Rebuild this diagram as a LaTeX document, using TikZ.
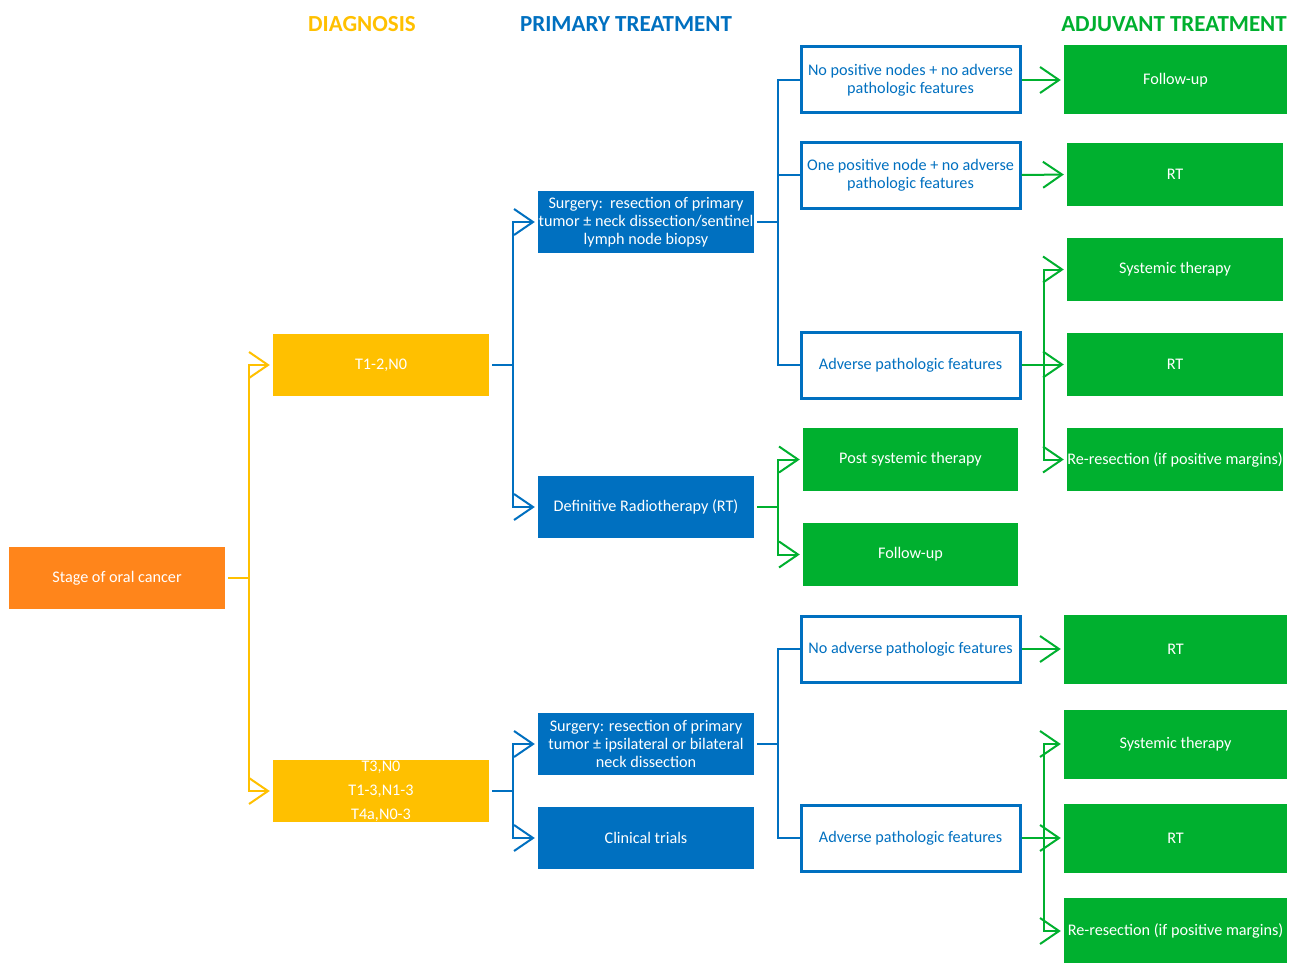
\documentclass[tikz,border=0pt]{standalone}
\usepackage{fontspec}
\setmainfont{Carlito}
\usetikzlibrary{arrows.meta}
\definecolor{cor}{RGB}{255,133,27}
\definecolor{cye}{RGB}{255,192,0}
\definecolor{cbl}{RGB}{0,112,192}
\definecolor{cgr}{RGB}{0,176,47}
\tikzset{
  base/.style={inner sep=0pt, align=center, font=\fontsize{16.2}{17.8}\selectfont, minimum width=216pt, minimum height=62pt},
  obox/.style={base, fill=cor, text=white},
  ybox/.style={base, fill=cye, text=white},
  bbox/.style={base, fill=cbl, text=white},
  wbox/.style={base, draw=cbl, line width=3pt, fill=white, text=cbl, minimum width=219pt, minimum height=66pt},
  gbox/.style={base, fill=cgr, text=white},
  gboxw/.style={gbox, minimum width=223pt, minimum height=69pt},
  hdr/.style={font=\fontsize{23}{27}\selectfont\bfseries, inner sep=0pt},
  tip/.style={-{Straight Barb[length=19pt,width=26pt]}, shorten >=3pt},
  yl/.style={draw=cye, line width=2pt},
  bl/.style={draw=cbl, line width=2pt},
  gl/.style={draw=cgr, line width=2pt},
}
\begin{document}
\begin{tikzpicture}[x=1pt,y=-1pt]
\useasboundingbox[fill=white] (0,0) rectangle (1295,963);
% headers
\node[hdr, text=cye] (h1) at (362,24) {DIAGNOSIS};
\node[hdr, text=cbl] (h2) at (626,24) {PRIMARY TREATMENT};
\node[hdr, text=cgr] (h3) at (1174,24) {ADJUVANT TREATMENT};
% diagnosis
\node[obox] (stage) at (117,578) {Stage of oral cancer};
\node[ybox] (d1) at (381,365) {T1-2,N0};
\node[ybox, font=\fontsize{16.2}{24}\selectfont] (d2) at (381,791) {T3,N0\\T1-3,N1-3\\T4a,N0-3};
% primary
\node[bbox] (s1) at (646,222) {Surgery:\ \ resection of primary\\tumor ± neck dissection/sentinel\\lymph node biopsy};
\node[bbox] (rt) at (646,507) {Definitive Radiotherapy (RT)};
\node[bbox] (s2) at (646,744) {Surgery: resection of primary\\tumor ± ipsilateral or bilateral\\neck dissection};
\node[bbox] (ct) at (646,838) {Clinical trials};
% pathology
\node[wbox] (w1) at (910.5,80) {No positive nodes + no adverse\\pathologic features};
\node[wbox] (w2) at (910.5,175) {One positive node + no adverse\\pathologic features};
\node[wbox] (w3) at (910.5,365) {Adverse pathologic features};
\node[wbox] (w4) at (910.5,649) {No adverse pathologic features};
\node[wbox] (w5) at (910.5,838) {Adverse pathologic features};
% adjuvant
\node[gboxw] (g1) at (1175.5,80) {Follow-up};
\node[gbox, minimum height=63pt] (g2) at (1175,174.5) {RT};
\node[gbox, minimum height=63pt] (g3) at (1175,269.5) {Systemic therapy};
\node[gbox, minimum height=63pt] (g4) at (1175,364.5) {RT};
\node[gbox, minimum height=63pt] (g5) at (1175,459.5) {Re-resection (if positive margins)};
\node[gbox, minimum width=215pt, minimum height=63pt] (g6) at (910.5,459.5) {Post systemic therapy};
\node[gbox, minimum width=215pt, minimum height=63pt] (g7) at (910.5,554.5) {Follow-up};
\node[gboxw] (g8) at (1175.5,649) {RT};
\node[gboxw] (g9) at (1175.5,744) {Systemic therapy};
\node[gboxw] (g10) at (1175.5,838) {RT};
\node[gboxw, minimum height=66pt] (g11) at (1175.5,931) {Re-resection (if positive margins)};
% yellow connectors
\draw[yl, tip, shorten <=3pt] (stage.east) -- ++(24,0) |- (d1.west);
\draw[yl, tip, shorten <=3pt] (stage.east) -- ++(24,0) |- (d2.west);
% blue connectors
\draw[bl, tip, shorten <=3pt] (d1.east) -- ++(24,0) |- (s1.west);
\draw[bl, tip, shorten <=3pt] (d1.east) -- ++(24,0) |- (rt.west);
\draw[bl, tip, shorten <=3pt] (d2.east) -- ++(24,0) |- (s2.west);
\draw[bl, tip, shorten <=3pt] (d2.east) -- ++(24,0) |- (ct.west);
\draw[bl, shorten <=3pt] (s1.east) -- ++(24,0) |- (w1.west);
\draw[bl, shorten <=3pt] (s1.east) -- ++(24,0) |- (w2.west);
\draw[bl, shorten <=3pt] (s1.east) -- ++(24,0) |- (w3.west);
\draw[bl, shorten <=3pt] (s2.east) -- ++(24,0) |- (w4.west);
\draw[bl, shorten <=3pt] (s2.east) -- ++(24,0) |- (w5.west);
% green connectors
\draw[gl, tip, shorten <=3pt] (rt.east) -- ++(24,0) |- (g6.west);
\draw[gl, tip, shorten <=3pt] (rt.east) -- ++(24,0) |- (g7.west);
\draw[gl, tip] (w1.east) -- (g1.west);
\draw[gl, tip] (w2.east) -- (g2.west);
\draw[gl, tip] (w3.east) -- ++(22,0) |- (g3.west);
\draw[gl, tip] (w3.east) -- ++(22,0) |- (g4.west);
\draw[gl, tip] (w3.east) -- ++(22,0) |- (g5.west);
\draw[gl, tip] (w4.east) -- (g8.west);
\draw[gl, tip] (w5.east) -- ++(22,0) |- (g9.west);
\draw[gl, tip] (w5.east) -- ++(22,0) |- (g10.west);
\draw[gl, tip] (w5.east) -- ++(22,0) |- (g11.west);
\end{tikzpicture}
\end{document}
